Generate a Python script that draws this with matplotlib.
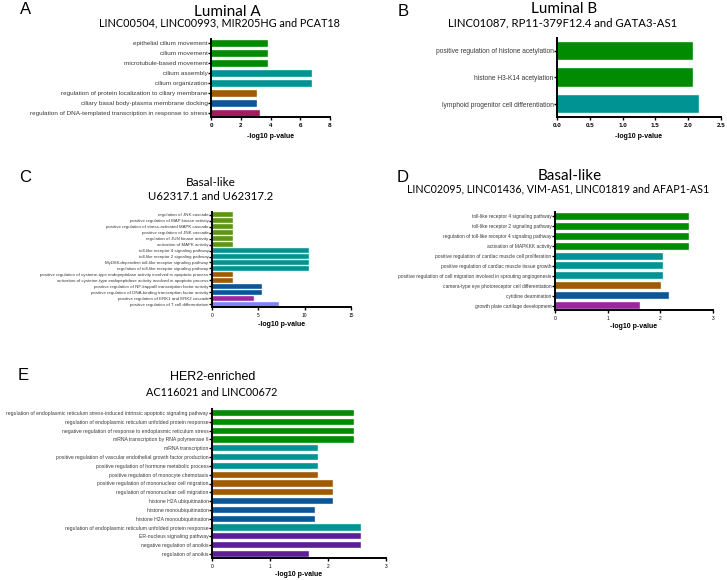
import matplotlib
matplotlib.use("Agg")
import matplotlib.pyplot as plt

W, H = 727, 580

# ---------------- data ----------------
a_labels = ["epithelial cilium movement", "cilium movement", "microtubule-based movement",
            "cilium assembly", "cilium organization",
            "regulation of protein localization to ciliary membrane",
            "ciliary basal body-plasma membrane docking",
            "regulation of DNA-templated transcription in response to stress"]
a_values = [3.85, 3.85, 3.85, 6.82, 6.82, 3.08, 3.12, 3.31]
a_groups = ["green", "green", "green", "teal", "teal", "brown", "blue", "magenta"]

b_labels = ["positive regulation of histone acetylation", "histone H3-K14 acetylation",
            "lymphoid progenitor cell differentiation"]
b_values = [2.08, 2.08, 2.165]
b_groups = ["green", "green", "teal"]

c_labels = ["regulation of JNK cascade", "positive regulation of MAP kinase activity",
            "positive regulation of stress-activated MAPK cascade",
            "positive regulation of JNK cascade", "regulation of JUN kinase activity",
            "activation of MAPK activity", "toll-like receptor 4 signaling pathway",
            "toll-like receptor 2 signaling pathway",
            "MyD88-dependent toll-like receptor signaling pathway",
            "regulation of toll-like receptor signaling pathway",
            "positive regulation of cysteine-type endopeptidase activity involved in apoptotic process",
            "activation of cysteine-type endopeptidase activity involved in apoptotic process",
            "positive regulation of NF-kappaB transcription factor activity",
            "positive regulation of DNA-binding transcription factor activity",
            "positive regulation of ERK1 and ERK2 cascade",
            "positive regulation of T cell differentiation"]
c_values = [2.3, 2.3, 2.3, 2.3, 2.3, 2.3, 10.5, 10.5, 10.5, 10.5, 2.3, 2.3, 5.36, 5.36, 4.53, 7.23]
c_groups = ["olive"] * 6 + ["teal"] * 4 + ["brown"] * 2 + ["blue"] * 2 + ["violet", "lavender"]

d_labels = ["toll-like receptor 4 signaling pathway", "toll-like receptor 2 signaling pathway",
            "regulation of toll-like receptor 4 signaling pathway", "activation of MAPKKK activity",
            "positive regulation of cardiac muscle cell proliferation",
            "positive regulation of cardiac muscle tissue growth",
            "positive regulation of cell migration involved in sprouting angiogenesis",
            "camera-type eye photoreceptor cell differentiation", "cytidine deamination",
            "growth plate cartilage development"]
d_values = [2.535, 2.535, 2.535, 2.535, 2.06, 2.06, 2.06, 2.01, 2.17, 1.62]
d_groups = ["green"] * 4 + ["teal"] * 3 + ["brown", "blue", "violet"]

e_labels = ["regulation of endoplasmic reticulum stress-induced intrinsic apoptotic signaling pathway",
            "regulation of endoplasmic reticulum unfolded protein response",
            "negative regulation of response to endoplasmic reticulum stress",
            "mRNA transcription by RNA polymerase II", "mRNA transcription",
            "positive regulation of vascular endothelial growth factor production",
            "positive regulation of hormone metabolic process",
            "positive regulation of monocyte chemotaxis",
            "positive regulation of mononuclear cell migration",
            "regulation of mononuclear cell migration", "histone H2A ubiquitination",
            "histone monoubiquitination", "histone H2A monoubiquitination",
            "regulation of endoplasmic reticulum unfolded protein response",
            "ER-nucleus signaling pathway", "negative regulation of anoikis",
            "regulation of anoikis"]
e_values = [2.45, 2.45, 2.45, 2.45, 1.83, 1.83, 1.83, 1.83, 2.09, 2.09, 2.09, 1.78, 1.78,
            2.565, 2.565, 2.565, 1.67]
e_groups = ["green"] * 4 + ["teal"] * 3 + ["brown"] * 3 + ["blue"] * 3 + ["teal"] + ["purple"] * 3

PALETTE = {"green": "#008b00", "teal": "#009393", "brown": "#a05a00", "blue": "#0b5699",
           "magenta": "#a31a5e", "olive": "#5c9612", "violet": "#9a26a0",
           "lavender": "#8282ff", "purple": "#5e1e9a"}

fig = plt.figure(figsize=(W / 100, H / 100), dpi=100)
fig.patch.set_facecolor("white")


def fx(x):
    return x / W


def fy(y):
    return 1 - y / H


def panel(rect, labels, values, groups, xmax, xticks, xticklabels, lab_fs, tick_fs,
          tick_bold, pad, xlabel_y):
    left, top, right, bottom = rect
    ax = fig.add_axes([fx(left), fy(bottom), fx(right) - fx(left), (bottom - top) / H])
    n = len(labels)
    ys = list(range(n))
    ax.barh(ys, values, height=0.7, color=[PALETTE[g] for g in groups],
            edgecolor="#e8f0f0", linewidth=0.3)
    ax.set_ylim(n - 1 + pad, -pad)
    ax.set_xlim(0, xmax)
    ax.set_yticks(ys)
    ax.set_yticklabels(labels, fontsize=lab_fs, color="#3a3a3a", family="Liberation Sans")
    ax.set_xticks(xticks)
    ax.set_xticklabels(xticklabels, fontsize=tick_fs,
                       fontweight="bold" if tick_bold else "normal", family="Liberation Sans")
    for s in ["top", "right"]:
        ax.spines[s].set_visible(False)
    for s in ["left", "bottom"]:
        ax.spines[s].set_linewidth(1.4)
    ax.tick_params(axis="y", length=2, width=1.0, pad=0.5)
    ax.tick_params(axis="x", length=2.5, width=1.0, pad=1.5)
    fig.text(fx((left + right) / 2), fy(xlabel_y), "-log10 p-value", ha="center", va="center",
             fontsize=5, fontweight="bold", family="Liberation Sans")
    return ax


# A
panel((211, 39, 330, 117), a_labels, a_values, a_groups, 8, [0, 2, 4, 6, 8],
      ["0", "2", "4", "6", "8"], 4.6, 4.5, True, 0.4, 136)
# B
panel((557, 38, 721, 117), b_labels, b_values, b_groups, 2.5,
      [0, 0.5, 1.0, 1.5, 2.0, 2.5], ["0.0", "0.5", "1.0", "1.5", "2.0", "2.5"],
      4.8, 4.5, True, 0.49, 136)
# C
panel((212, 212, 351, 307), c_labels, c_values, c_groups, 15, [0, 5, 10, 15],
      ["0", "5", "10", "15"], 3.2, 3.5, False, 0.42, 325)
# D
panel((555, 212, 713, 310), d_labels, d_values, d_groups, 3, [0, 1, 2, 3],
      ["0", "1", "2", "3"], 3.55, 3.5, False, 0.45, 327)
# E
panel((212, 409, 386, 558), e_labels, e_values, e_groups, 3, [0, 1, 2, 3],
      ["0", "1", "2", "3"], 3.7, 3.5, False, 0.46, 575)

TF = "Lato"


def t(x, y, s, fs, family=TF, weight="normal"):
    fig.text(fx(x), fy(y), s, ha="center", va="center", fontsize=fs, family=family,
             fontweight=weight)


for (x, y, s) in [(26, 10, "A"), (403, 11, "B"), (25, 177, "C"), (403, 177, "D"), (23, 376, "E")]:
    t(x, y, s, 12, family="Liberation Sans")

t(227, 12, "Luminal A", 11)
t(219, 23, "LINC00504, LINC00993, MIR205HG and PCAT18", 7.8)
t(564, 9, "Luminal B", 11)
t(563, 23, "LINC01087, RP11-379F12.4 and GATA3-AS1", 8.2)
t(211, 182, "Basal-like", 8.5)
t(211, 196, "U62317.1 and U62317.2", 8.2)
t(570, 176, "Basal-like", 11)
t(558, 189, "LINC02095, LINC01436, VIM-AS1, LINC01819 and AFAP1-AS1", 7.7)
t(213, 377, "HER2-enriched", 9, family="Liberation Sans")
t(212, 393, "AC116021 and LINC00672", 7.8)

fig.savefig("out.png", dpi=100, facecolor="white")
